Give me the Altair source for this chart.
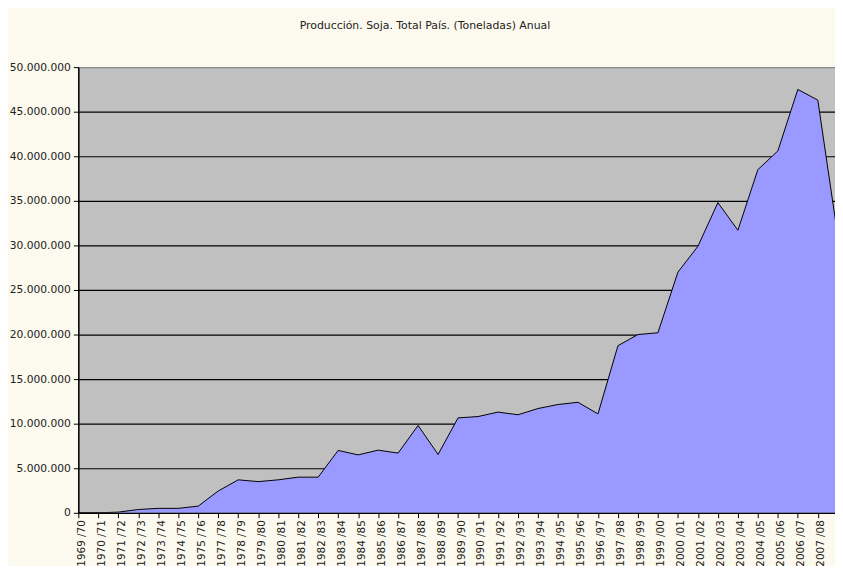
import altair as alt
import pandas as pd

seasons = [
    "1969 /70", "1970 /71", "1971 /72", "1972 /73", "1973 /74", "1974 /75",
    "1975 /76", "1977 /78", "1978 /79", "1979 /80", "1980 /81", "1981 /82",
    "1982 /83", "1983 /84", "1984 /85", "1985 /86", "1986 /87", "1987 /88",
    "1988 /89", "1989 /90", "1990 /91", "1991 /92", "1992 /93", "1993 /94",
    "1994 /95", "1995 /96", "1996 /97", "1997 /98", "1998 /99", "1999 /00",
    "2000 /01", "2001 /02", "2002 /03", "2003 /04", "2004 /05", "2005 /06",
    "2006 /07", "2007 /08", "2008 /09",
]
production = [
    0, 0, 78000, 370000, 500000, 500000,
    750000, 2450000, 3700000, 3500000, 3700000, 4000000,
    4000000, 7000000, 6500000, 7030000, 6700000, 9800000,
    6550000, 10650000, 10800000, 11300000, 11000000, 11700000,
    12150000, 12400000, 11100000, 18750000, 20000000, 20200000,
    27000000, 29900000, 34800000, 31700000, 38500000, 40600000,
    47500000, 46300000, 31000000,
]
y_ticks = [0, 5000000, 10000000, 15000000, 20000000, 25000000,
           30000000, 35000000, 40000000, 45000000, 50000000]
title_text = "Producción. Soja. Total País. (Toneladas) Anual"

df = pd.DataFrame({"i": list(range(len(seasons))), "season": seasons, "value": production})

label_array = "[" + ",".join("'" + s + "'" for s in seasons) + "]"

FONT = "DejaVu Sans"
PLOT_W = 764
PLOT_H = 450
STEP = 20.18

x = alt.X(
    "i:Q",
    scale=alt.Scale(domain=[0, PLOT_W / STEP], nice=False, zero=False),
    axis=alt.Axis(
        title=None,
        values=list(range(len(seasons))),
        labelExpr=label_array + "[datum.value]",
        labelAngle=270,
        labelFont=FONT,
        labelFontSize=10.5,
        labelColor="#222222",
        labelPadding=2,
        labelOffset=3,
        labelOverlap=False,
        labelBound=False,
        labelFlush=False,
        tickColor="black",
        tickSize=5,
        domainColor="black",
        domainWidth=1.5,
        grid=False,
    ),
)
y = alt.Y(
    "value:Q",
    scale=alt.Scale(domain=[0, 50000000], nice=False),
    axis=alt.Axis(
        title=None,
        values=y_ticks,
        labelExpr="replace(replace(format(datum.value, ','), ',', '.'), ',', '.')",
        labelFont=FONT,
        labelFontSize=10.8,
        labelColor="#222222",
        labelPadding=3,
        tickColor="black",
        tickSize=5,
        domainColor="black",
        domainWidth=1.5,
        grid=True,
        gridColor={"condition": {"test": "datum.value >= 50000000", "value": "#888888"}, "value": "black"},
        gridWidth=1.2,
    ),
)

chart = (
    alt.Chart(df)
    .mark_area(color="#9999FF", opacity=1, clip=True, line={"color": "black", "strokeWidth": 1})
    .encode(x=x, y=y)
    .properties(
        width=PLOT_W,
        height=PLOT_H,
        title=alt.TitleParams(
            title_text,
            font=FONT,
            fontSize=11,
            fontWeight="normal",
            color="#222222",
            anchor="middle",
            dx=-32,
            offset=30,
        ),
        autosize=alt.AutoSizeParams(type="none"),
        padding={"left": 71, "top": 57, "right": 0, "bottom": 51},
        background="#FCFAEE",
    )
    .configure_view(fill="#C0C0C0", stroke="#888888", strokeWidth=1)
)

chart.save("out.html", embed_options={"renderer": "svg", "actions": False})
